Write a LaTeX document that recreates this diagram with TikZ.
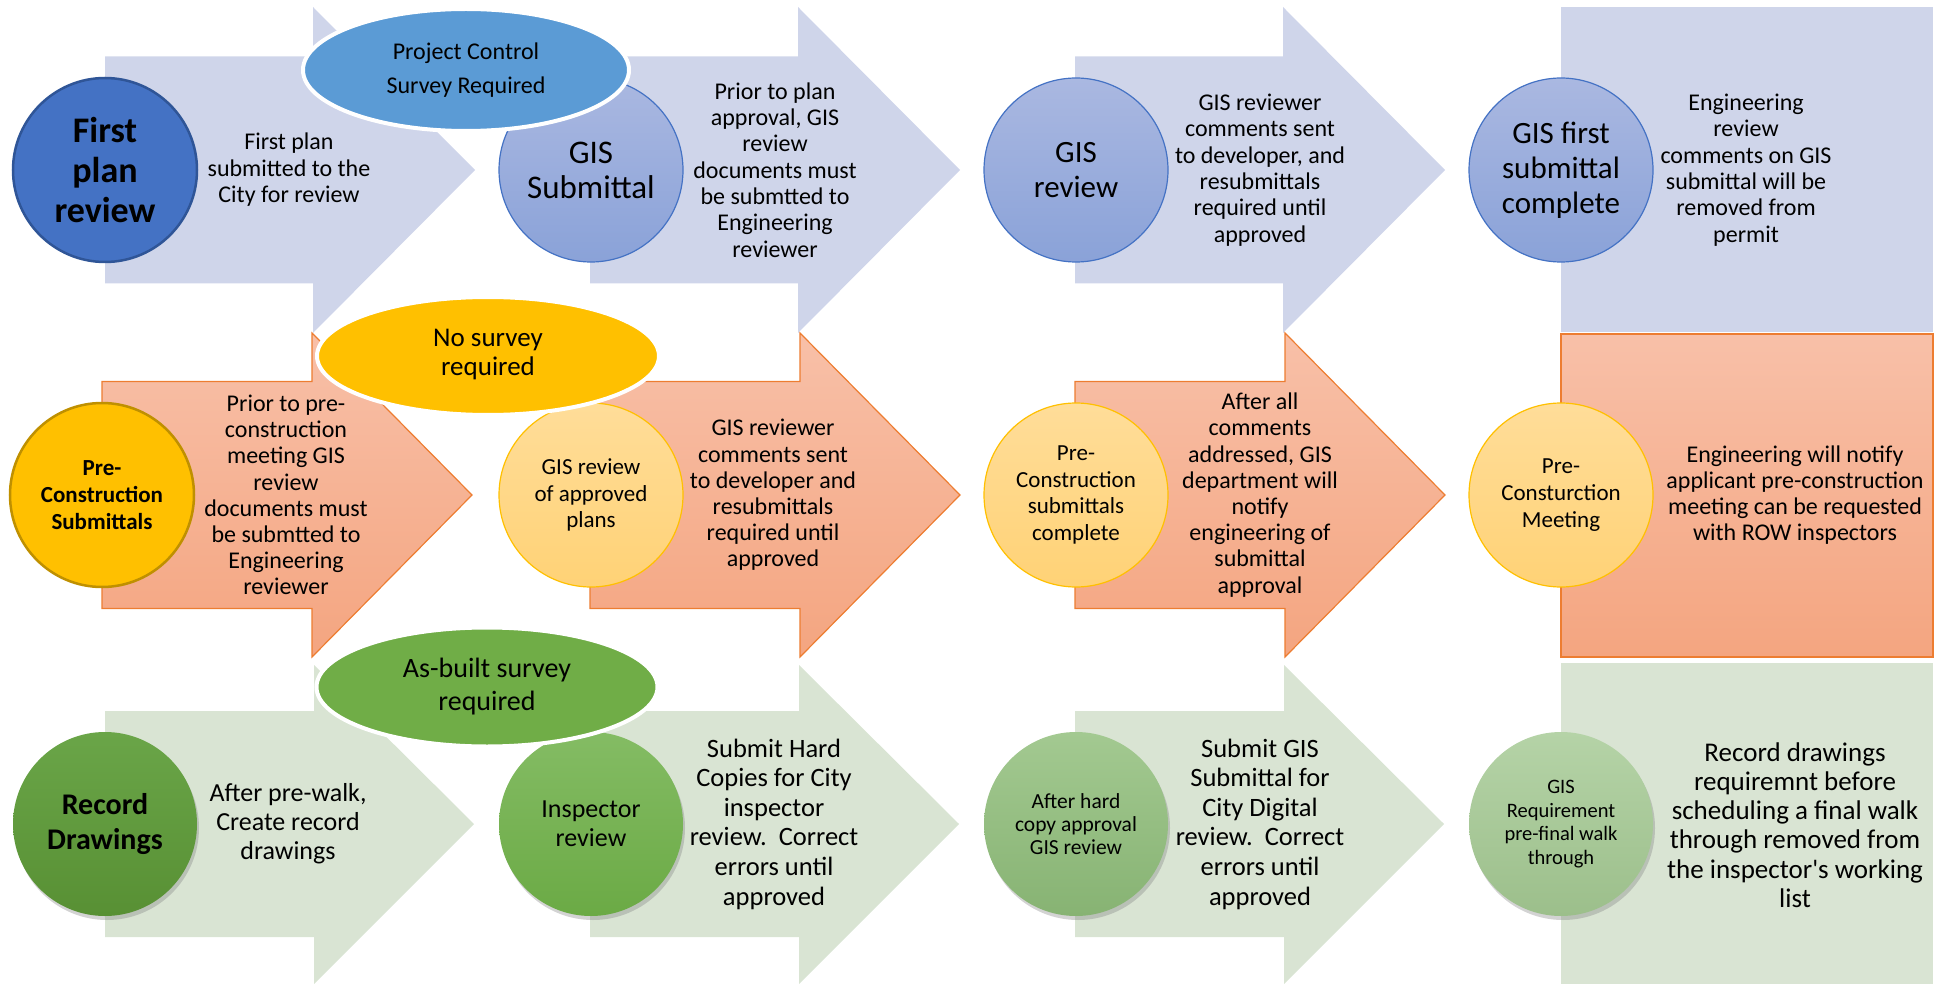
\documentclass[tikz,border=0pt]{standalone}
\usepackage{fontspec}
\setmainfont{Carlito}[Ligatures=TeXOff]
\usetikzlibrary{shapes.geometric}
\usetikzlibrary{shadows}
\definecolor{row-blue}{RGB}{207,213,234}
\definecolor{row-green}{RGB}{217,228,211}
\definecolor{orange-top}{RGB}{248,192,168}
\definecolor{orange-bot}{RGB}{244,165,128}
\definecolor{orange-line}{RGB}{237,125,49}
\definecolor{dark-blue}{RGB}{68,114,196}
\definecolor{dark-blue-line}{RGB}{47,85,151}
\definecolor{pale-blue-top}{RGB}{170,184,225}
\definecolor{pale-blue-bot}{RGB}{138,162,216}
\definecolor{gold}{RGB}{255,192,0}
\definecolor{gold-line}{RGB}{191,144,0}
\definecolor{pale-gold-top}{RGB}{255,221,153}
\definecolor{pale-gold-bot}{RGB}{255,210,118}
\definecolor{sky}{RGB}{91,155,213}
\definecolor{grass}{RGB}{112,173,71}
\tikzset{
  stepcircle/.style={circle, minimum size=184pt, inner sep=0pt, align=center},
  surveyoval/.style={draw=white, line width=4pt},
  steptext/.style={align=center, inner sep=0pt},
  bluecircle/.style={stepcircle, top color=pale-blue-top, bottom color=pale-blue-bot, draw=dark-blue, line width=1.2pt},
  goldcircle/.style={stepcircle, top color=pale-gold-top, bottom color=pale-gold-bot, draw=gold, line width=1.2pt},
  greencircle/.style={stepcircle, drop shadow={shadow xshift=2pt, shadow yshift=-4pt, opacity=.35}},
  orangeshape/.style={top color=orange-top, bottom color=orange-bot, draw=orange-line, line width=1.2pt},
}
\newcommand{\fs}[2]{\fontsize{#1}{#2}\selectfont}

\begin{document}
\begin{tikzpicture}[x=1pt, y=-1pt]
\useasboundingbox (0,0) rectangle (1944,984);
% row 1
\foreach \L in {105,590,1075}
  \fill[row-blue] (\L,56.5) -- (\L+208,56.5) -- (\L+208,7) -- (\L+370,170) -- (\L+208,333) -- (\L+208,283.5) -- (\L,283.5) -- cycle;
\fill[row-blue] (1561,7) rectangle (1933,332);
% row 2
\foreach \L in {102,590,1075}
  \path[orangeshape] (\L,381.5) -- (\L+210,381.5) -- (\L+210,333) -- (\L+370,495) -- (\L+210,657) -- (\L+210,608.5) -- (\L,608.5) -- cycle;
\path[orangeshape, line width=2pt] (1561,334) rectangle (1933,657);
% row 3
\foreach \L in {105,590,1075}
  \fill[row-green] (\L,711) -- (\L+209,711) -- (\L+209,665) -- (\L+369,824) -- (\L+209,984) -- (\L+209,937) -- (\L,937) -- cycle;
\fill[row-green] (1561,663) rectangle (1933,984);

% circles
\node[stepcircle, fill=dark-blue, draw=dark-blue-line, line width=2.5pt, font=\bfseries\fs{36}{40}] (first) at (105,170) {First\\plan\\review};
\node[bluecircle, font=\fs{33}{35}] (gissub) at (591,170) {GIS\\Submittal};
\node[bluecircle, font=\fs{31}{35}] (gisrev) at (1076,170) {GIS\\review};
\node[bluecircle, font=\fs{31}{35}] (gisdone) at (1561,170) {GIS first\\submittal\\complete};

\node[stepcircle, fill=gold, draw=gold-line, line width=2.5pt, font=\bfseries\fs{23}{26.7}] (presub) at (102,495) {Pre-\\Construction\\Submittals};
\node[goldcircle, font=\fs{23}{26.7}] (gisplans) at (591,495) {GIS review\\of approved\\plans};
\node[goldcircle, font=\fs{23}{26.5}] (predone) at (1076,495) {Pre-\\Construction\\submittals\\complete};
\node[goldcircle, font=\fs{23}{26.7}] (premeet) at (1561,495) {Pre-\\Consturction\\Meeting};

\node[greencircle, top color={rgb,255:red,106;green,165;blue,72}, bottom color={rgb,255:red,88;green,144;blue,52}, font=\bfseries\fs{30}{35}] (record) at (105,824) {Record\\Drawings};
\node[greencircle, top color={rgb,255:red,132;green,188;blue,100}, bottom color={rgb,255:red,107;green,170;blue,69}, font=\fs{26}{28.7}] (inspect) at (591,824) {Inspector\\review};
\node[greencircle, top color={rgb,255:red,163;green,201;blue,145}, bottom color={rgb,255:red,135;green,179;blue,115}, font=\fs{21.5}{23.3}] (hardcopy) at (1076,824) {After hard\\copy approval\\GIS review};
\node[greencircle, top color={rgb,255:red,181;green,211;blue,167}, bottom color={rgb,255:red,156;green,191;blue,139}, font=\fs{20.5}{23.5}] (gisreq) at (1561,824) {GIS\\Requirement\\pre-final walk\\through};

% texts
\node[steptext, font=\fs{24}{26.5}] (firsttxt) at (289,170) {First plan\\submitted to the\\City for review};
\node[steptext, font=\fs{24}{26.3}] (subtxt) at (775,170) {Prior to plan\\approval, GIS\\review\\documents must\\be submtted to\\Engineering\\reviewer};
\node[steptext, font=\fs{24}{26.3}] (revtxt) at (1260,170) {GIS reviewer\\comments sent\\to developer, and\\resubmittals\\required until\\approved};
\node[steptext, font=\fs{24}{26.3}] (donetxt) at (1746,170) {Engineering\\review\\comments on GIS\\submittal will be\\removed from\\permit};

\node[steptext, font=\fs{24}{26.2}] (presubtxt) at (286,495) {Prior to pre-\\construction\\meeting GIS\\review\\documents must\\be submtted to\\Engineering\\reviewer};
\node[steptext, font=\fs{24}{26.2}] (planstxt) at (773,495) {GIS reviewer\\comments sent\\to developer and\\resubmittals\\required until\\approved};
\node[steptext, font=\fs{24}{26.2}] (predonetxt) at (1260,495) {After all\\comments\\addressed, GIS\\department will\\notify\\engineering of\\submittal\\approval};
\node[steptext, font=\fs{24}{26.2}] (meettxt) at (1795,495) {Engineering will notify\\applicant pre-construction\\meeting can be requested\\with ROW inspectors};

\node[steptext, font=\fs{26}{29}] (recordtxt) at (288,824) {After pre-walk,\\Create record\\drawings};
\node[steptext, font=\fs{26.5}{29.6}] (inspecttxt) at (774,824) {Submit Hard\\Copies for City\\inspector\\review.\ \ Correct\\errors until\\approved};
\node[steptext, font=\fs{26.5}{29.6}] (hardcopytxt) at (1260,824) {Submit GIS\\Submittal for\\City Digital\\review.\ \ Correct\\errors until\\approved};
\node[steptext, font=\fs{27}{29.3}] (gisreqtxt) at (1795,825) {Record drawings\\requiremnt before\\scheduling a final walk\\through removed from\\the inspector's working\\list};

% survey ovals
\filldraw[surveyoval, fill=sky] (466,70) ellipse [x radius=163, y radius=61];
\node[steptext, font=\fs{24}{34}] (control) at (466,70) {Project Control\\Survey Required};
\filldraw[surveyoval, fill=gold] (488,356) ellipse [x radius=171, y radius=59];
\node[steptext, font=\fs{27}{29}] (nosurvey) at (488,355) {No survey\\required};
\filldraw[surveyoval, fill=grass] (487,687) ellipse [x radius=170.5, y radius=59.5];
\node[steptext, font=\fs{28}{33}] (asbuilt) at (487,687) {As-built survey\\required};
\end{tikzpicture}
\end{document}
